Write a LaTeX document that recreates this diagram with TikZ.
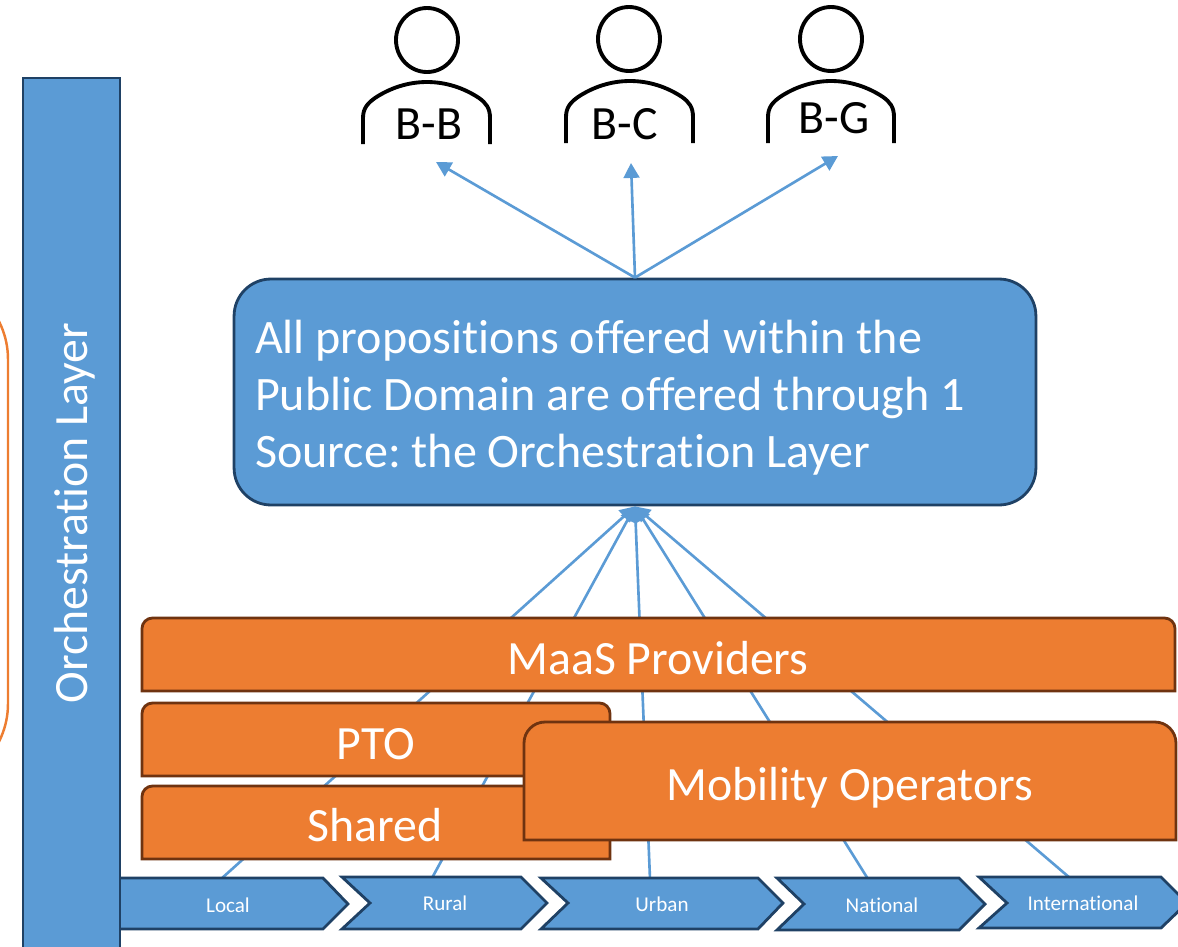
\documentclass[tikz,border=0pt]{standalone}
\usepackage{fontspec}
\setmainfont{Carlito}[Ligatures=NoCommon]
\usetikzlibrary{arrows.meta}
\definecolor{barblue}{HTML}{5B9BD5}
\definecolor{edgeblue}{HTML}{1F4165}
\definecolor{barorange}{HTML}{ED7D31}
\definecolor{edgebrown}{HTML}{6F3310}
\tikzset{
    bluebox/.style={fill=barblue, draw=edgeblue, line width=1.6pt},
    orangebox/.style={fill=barorange, draw=edgebrown, line width=1.6pt},
    person/.style={draw=black, line width=2.2pt},
    link/.style={draw=barblue, line width=1.5pt, -{Triangle[length=8.5pt, width=9pt]}},
    bigtext/.style={text=white, font=\fontsize{27.2}{32.3}\selectfont},
    persontext/.style={font=\fontsize{27.2}{32.3}\selectfont},
    tagtext/.style={text=white, font=\fontsize{12}{14}\selectfont}
}

\begin{document}
\begin{tikzpicture}[x=0.02cm, y=-0.02cm]
    \clip (0,0) rectangle (1178,947);

    % The outline at the left edge
    \draw[barorange, line width=1.4pt, rounded corners=48pt] (-200,275) rectangle (8,788);

    % The people
    \draw[person] (427,40) ellipse (31 and 32);
    \draw[person] (363,144) -- (363,118) .. controls (363,108) and (368,103) .. (375,98) .. controls (390,88) and (408,82) .. (427,82) .. controls (446,82) and (464,88) .. (479,98) .. controls (486,103) and (490,108) .. (490,118) -- (490,144);
    \node (bb) at (429,124) [persontext] {B-B};

    \draw[person] (629,39) ellipse (31 and 32);
    \draw[person] (566,143) -- (566,117) .. controls (566,107) and (571,102) .. (578,97) .. controls (593,87) and (611,81) .. (630,81) .. controls (649,81) and (667,87) .. (682,97) .. controls (689,102) and (693,107) .. (693,117) -- (693,143);
    \node (bc) at (625,124) [persontext] {B-C};

    \draw[person] (831,39) ellipse (31 and 32);
    \draw[person] (768,143) -- (768,117) .. controls (768,107) and (773,102) .. (780,97) .. controls (795,87) and (813,81) .. (831,81) .. controls (850,81) and (868,87) .. (883,97) .. controls (890,102) and (894,107) .. (894,117) -- (894,143);
    \node (bg) at (834,118) [persontext] {B-G};

    % The propositions box
    \node (main) at (635,392) [bluebox, text=white, font=\fontsize{27.35}{32.3}\selectfont\frenchspacing, rounded corners=21pt, minimum width=16.04cm, minimum height=4.52cm, inner xsep=0.42cm, text width=15.2cm, align=flush left] {\rule{0pt}{25.5pt}All propositions offered within the\\Public Domain are offered through 1\\Source: the Orchestration Layer};

    % Free ends of the connectors
    \coordinate (tipbb) at (436,162);
    \coordinate (tipbc) at (631,163);
    \coordinate (tipbg) at (838,156);
    \coordinate (footlocal) at (221,879);
    \coordinate (footrural) at (432,878);
    \coordinate (footurban) at (650,879);
    \coordinate (footnational) at (868,879);
    \coordinate (footinter) at (1070,878);

    % Connectors
    \draw[link] (main.north) -- (tipbb);
    \draw[link] (main.north) -- (tipbc);
    \draw[link] (main.north) -- (tipbg);
    \draw[link] (footlocal) -- (main.south);
    \draw[link] (footrural) -- (main.south);
    \draw[link] (footurban) -- (main.south);
    \draw[link] (footnational) -- (main.south);
    \draw[link] (footinter) -- (main.south);

    % The scale chevrons
    \draw[bluebox] (90,878) -- (323,878) -- (348,904) -- (323,929) -- (90,929) -- cycle;
    \node (local) at (228,905) [tagtext] {Local};
    \draw[bluebox] (342,877) -- (521,877) -- (547,903) -- (521,929) -- (342,929) -- (370,903) -- cycle;
    \node (rural) at (445,903) [tagtext] {Rural};
    \draw[bluebox] (541,878) -- (758,878) -- (783,903) -- (758,929) -- (541,929) -- (568,903) -- cycle;
    \node (urban) at (662,904) [tagtext] {Urban};
    \draw[bluebox] (777,878) -- (959,878) -- (985,904) -- (959,930) -- (777,930) -- (804,904) -- cycle;
    \node (national) at (882,905) [tagtext] {National};
    \draw[bluebox] (979,877) -- (1161,877) -- (1187,903) -- (1161,928) -- (979,928) -- (1007,903) -- cycle;
    \node (international) at (1083,903) [tagtext] {International};

    % The orchestration bar
    \draw[bluebox] (23,78) rectangle (120,960);
    \node (orchestration) at (75,513) [bigtext, rotate=90] {Orchestration Layer};

    % The orange layers
    \draw[orangebox] (142,691) [rounded corners=6pt] -- (142,618) -- (1175,618) [sharp corners] -- (1175,691) -- cycle;
    \node (maas) at (658,658) [bigtext] {MaaS Providers};
    \draw[orangebox] (142,776) [rounded corners=6pt] -- (142,703) -- (610,703) [sharp corners] -- (610,776) -- cycle;
    \node (pto) at (376,744) [bigtext] {PTO};
    \draw[orangebox] (142,859) [rounded corners=6pt] -- (142,786) -- (610,786) [sharp corners] -- (610,859) -- cycle;
    \node (shared) at (375,825) [bigtext] {Shared};
    \draw[orangebox] (524,840) [rounded corners=12pt] -- (524,722) -- (1176,722) [sharp corners] -- (1176,840) -- cycle;
    \node (mobility) at (850,788) [bigtext] {Mobility Operators};
\end{tikzpicture}
\end{document}
